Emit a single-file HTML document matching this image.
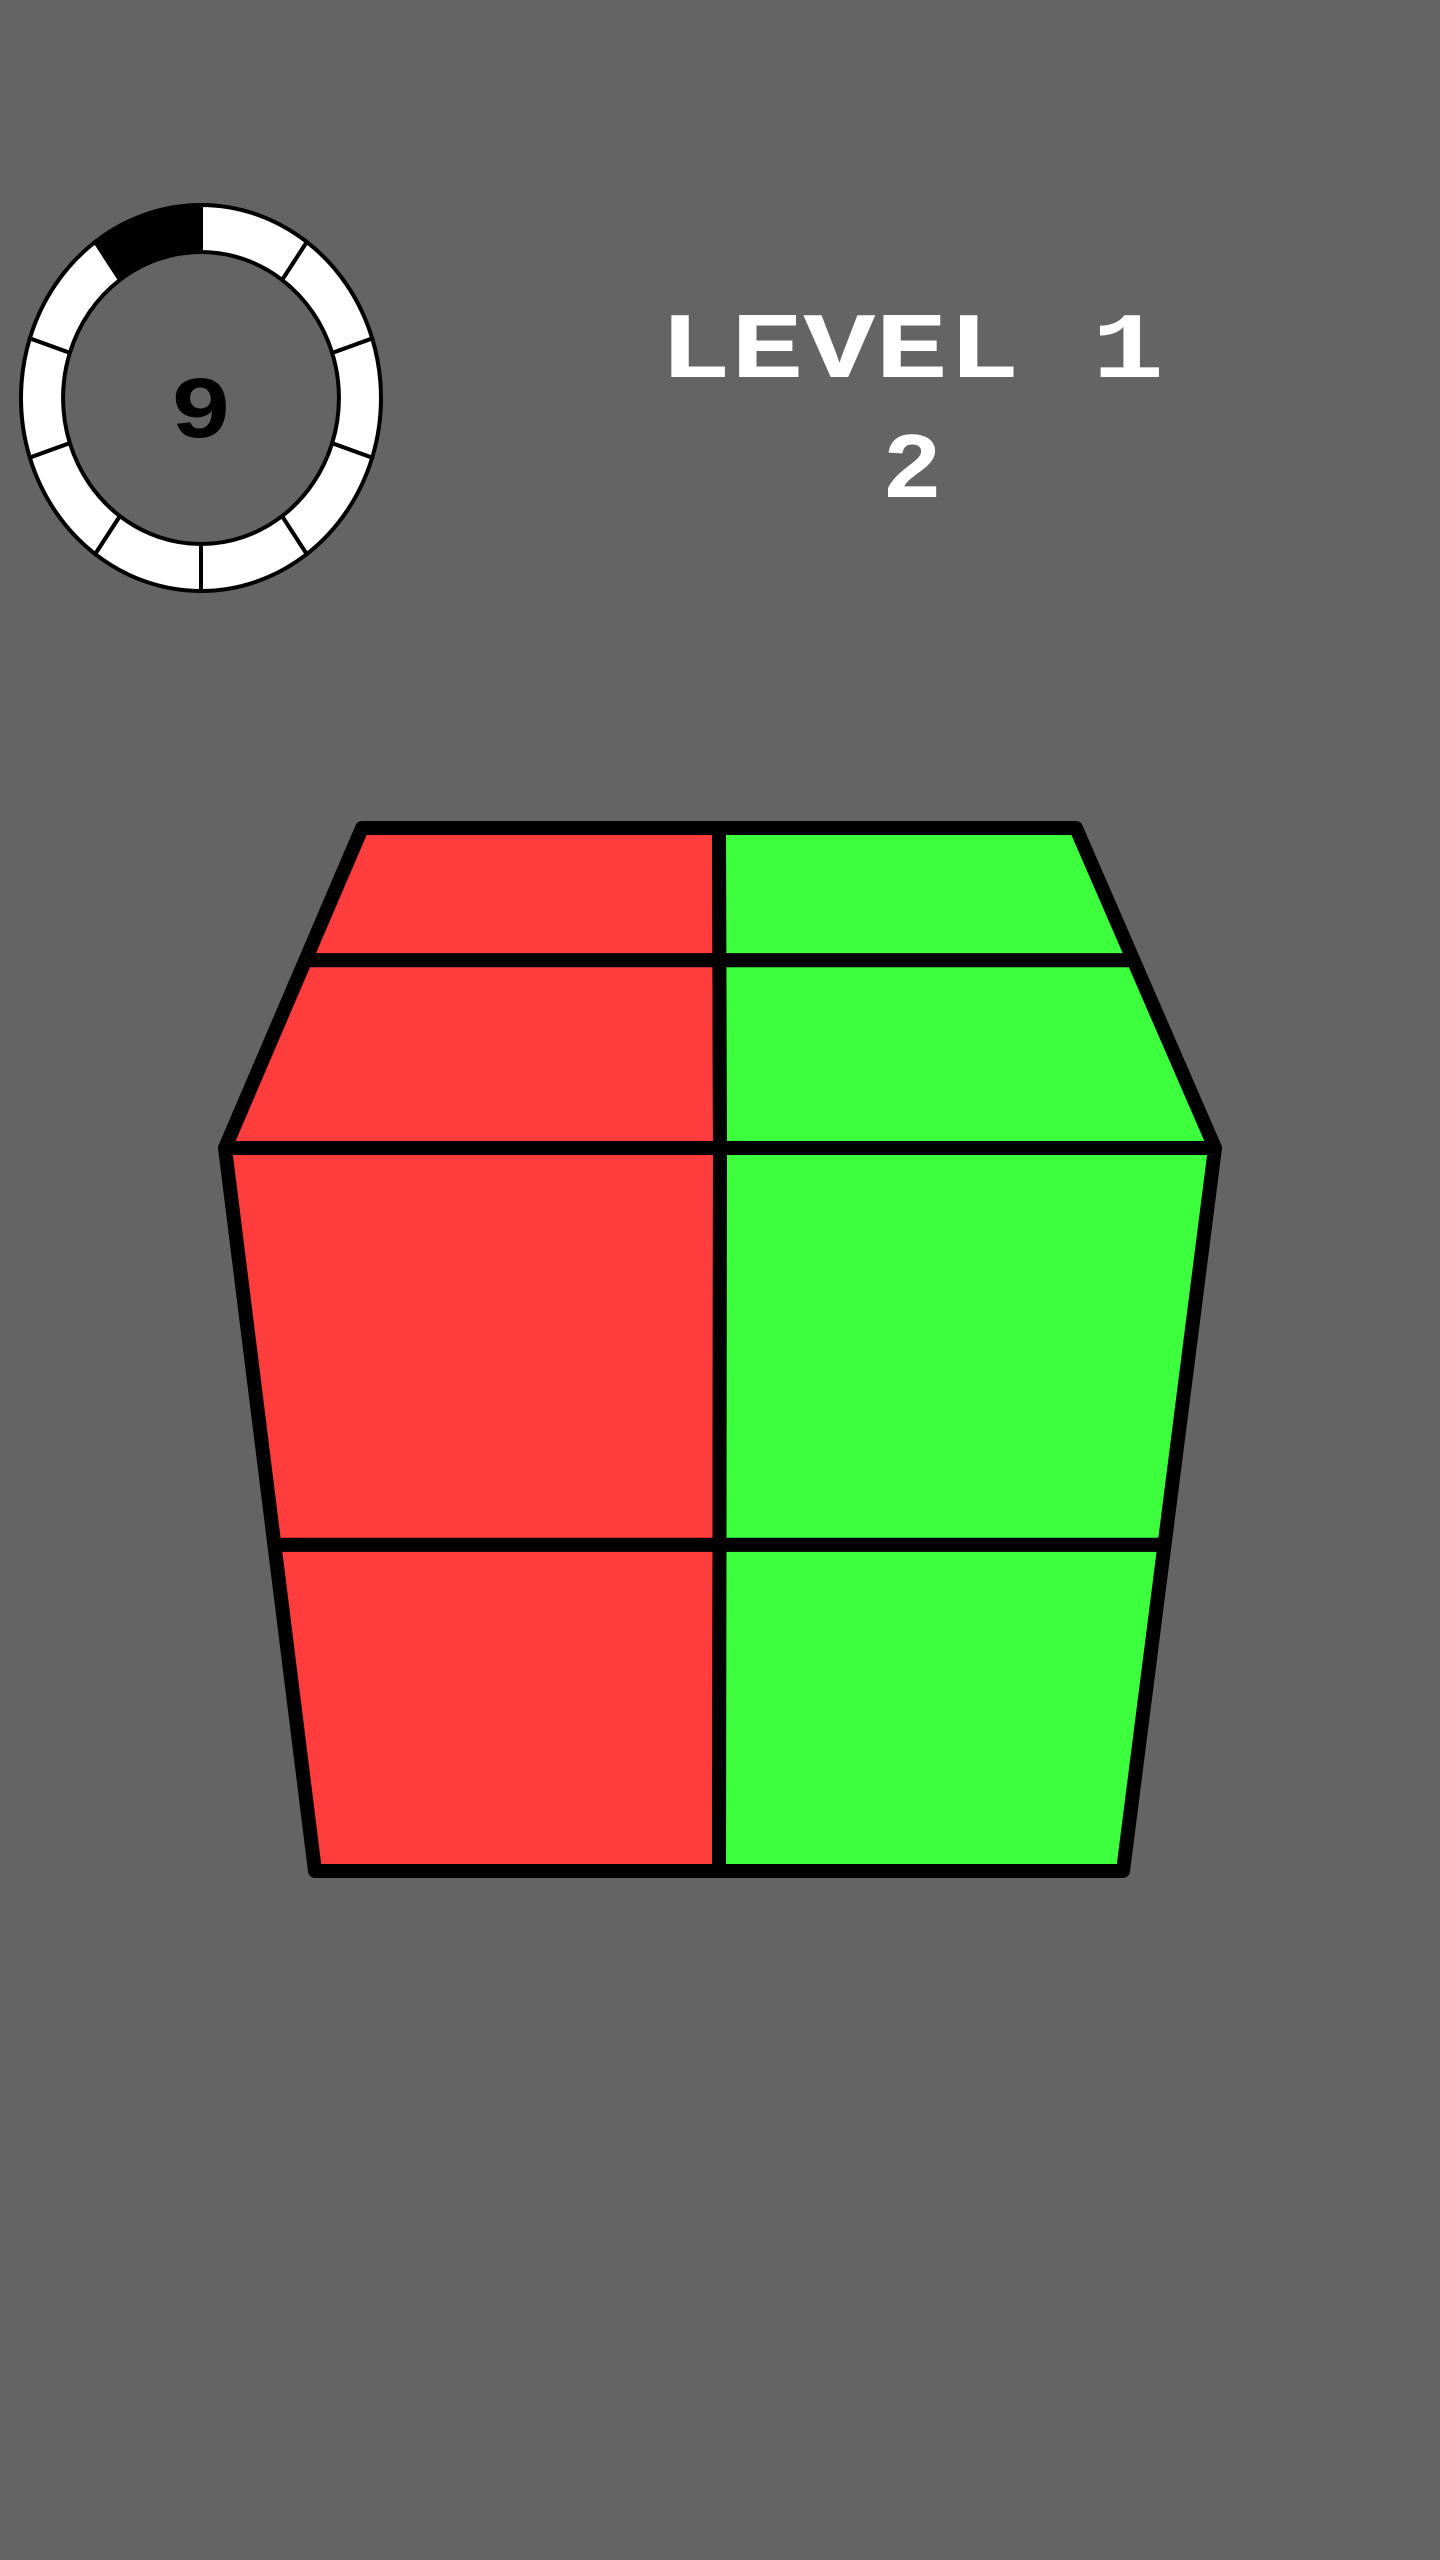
<!DOCTYPE html>
<html><head><meta charset="utf-8"><style>
html,body{margin:0;padding:0;background:#646464;width:1440px;height:2560px;overflow:hidden}
svg{display:block}
</style></head><body>
<svg id="scene" width="1440" height="2560" viewBox="0 0 1440 2560">
 <rect width="1440" height="2560" fill="#646464"/>
 <g id="timer"></g>
 <text x="201" y="437" text-anchor="middle" textLength="62" lengthAdjust="spacingAndGlyphs" font-family="Liberation Mono, monospace" font-weight="bold" font-size="88" fill="#000">9</text>
 <text x="659" y="377" textLength="505" lengthAdjust="spacingAndGlyphs" font-family="Liberation Mono, monospace" font-weight="bold" font-size="94" fill="#fff">LEVEL 1</text>
 <text x="912" y="497" text-anchor="middle" textLength="60" lengthAdjust="spacingAndGlyphs" font-family="Liberation Mono, monospace" font-weight="bold" font-size="94" fill="#fff">2</text>
 <g id="cube"></g>
</svg>
<script>
const segmentCount = 10;
const elapsedSegments = 1;
const topColors = ["#ff3d3d","#3dff3d","#ff3d3d","#3dff3d"];
const frontColors = ["#ff3d3d","#3dff3d","#ff3d3d","#3dff3d"];

const NS="http://www.w3.org/2000/svg";
function mk(t,a,p){const e=document.createElementNS(NS,t);for(const k in a)e.setAttribute(k,a[k]);p.appendChild(e);return e;}

const tg=document.getElementById('timer');
const cx=201,cy=398,Rx=180,Ry=193,rx=138,ry=146;
for(let i=0;i<segmentCount;i++){
  const a0=-Math.PI/2-(i+1)*2*Math.PI/segmentCount, a1=-Math.PI/2-i*2*Math.PI/segmentCount;
  const p=(R1,R2,a)=>(cx+R1*Math.cos(a)).toFixed(1)+","+(cy+R2*Math.sin(a)).toFixed(1);
  const d="M"+p(Rx,Ry,a0)+" A"+Rx+","+Ry+" 0 0 1 "+p(Rx,Ry,a1)+" L"+p(rx,ry,a1)+" A"+rx+","+ry+" 0 0 0 "+p(rx,ry,a0)+"Z";
  const s=mk('path',{d:d,fill:i<elapsedSegments?'#000':'#fff',stroke:'#000','stroke-width':4},tg);
  
  
}

const cg=document.getElementById('cube');
const T=[[362,828],[1076,828],[1215,1148],[225,1148]];
const F=[[225,1148],[1215,1148],[1123,1871],[315,1871]];
const topDiv=0.413, frontDiv=0.549;
function bil(q,u,v){const top=[q[0][0]+(q[1][0]-q[0][0])*u,q[0][1]+(q[1][1]-q[0][1])*u];const bot=[q[3][0]+(q[2][0]-q[3][0])*u,q[3][1]+(q[2][1]-q[3][1])*u];return [top[0]+(bot[0]-top[0])*v,top[1]+(bot[1]-top[1])*v];}
function face(q,vd,colors,name){
  mk('polygon',{points:q.map(p=>p.join(',')).join(' '),fill:'#000',stroke:'#000','stroke-width':8,'stroke-linejoin':'round'},cg);
  const us=[0,0.5,1],vs=[0,vd,1];let k=0;
  for(let r=0;r<2;r++)for(let c=0;c<2;c++){
    const pts=[bil(q,us[c],vs[r]),bil(q,us[c+1],vs[r]),bil(q,us[c+1],vs[r+1]),bil(q,us[c],vs[r+1])];
    const s=mk('polygon',{points:pts.map(p=>p.map(n=>n.toFixed(1)).join(',')).join(' '),fill:colors[k++],stroke:'#000','stroke-width':14,'stroke-linejoin':'round'},cg);
    
    
  }
}
face(T,topDiv,topColors,'top');
face(F,frontDiv,frontColors,'front');
</script>
</body></html>
